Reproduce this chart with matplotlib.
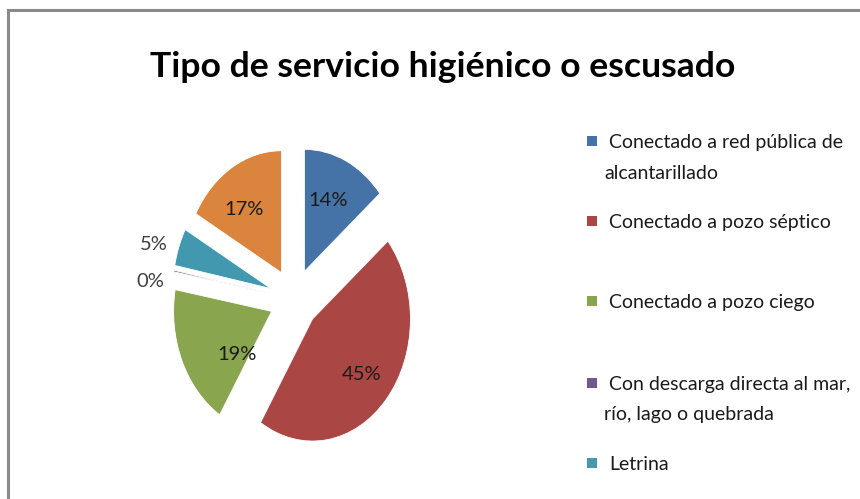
import numpy as np
import matplotlib.pyplot as plt
from matplotlib.patches import Rectangle
from matplotlib.lines import Line2D

# Datos del grafico
categorias = ["Conectado a red pública de\nalcantarillado",
              "Conectado a pozo séptico",
              "Conectado a pozo ciego",
              "Con descarga directa al mar,\nrío, lago o quebrada",
              "Letrina",
              "Otro"]
valores = [14, 45, 19, 0.2, 5, 17]
etiquetas = ["14%", "45%", "19%", "0%", "5%", "17%"]
colores = ["#4572A7", "#AA4643", "#89A54E", "#71588F", "#4198AF", "#DB843D"]

W, H = 860, 499
plt.rcParams['font.family'] = ["Lato", "DejaVu Sans"]

fig = plt.figure(figsize=(W / 100, H / 100), dpi=100)
renderer = fig.canvas.get_renderer()


def ajustar(t, ancho_px):
    # reduce el tamaño de letra para que el texto ocupe el ancho dado
    ancho = t.get_window_extent(renderer).width
    t.set_fontsize(t.get_fontsize() * ancho_px / ancho)


# marco gris (cortado a la derecha y abajo)
fig.add_artist(Line2D([8 / W, 1], [1 - 10 / H, 1 - 10 / H], color="#8a8a8a", lw=2.2))
fig.add_artist(Line2D([8 / W, 8 / W], [0, 1 - 10 / H], color="#8a8a8a", lw=2.2))

titulo = fig.text(443 / W, 1 - 77 / H, "Tipo de servicio higiénico o escusado",
                  ha="center", va="baseline", fontsize=31, fontweight="bold")
ajustar(titulo, 583)

# pastel: centro (294, 299) px, radio x 98 px, radio y 122 px
cx, cy, rx, ry = 294, 299, 98, 122
ax = fig.add_axes([(cx - 1.5 * rx) / W, (H - cy - 1.5 * ry) / H, 3 * rx / W, 3 * ry / H])
wedges, _ = ax.pie(valores, colors=colores, startangle=90, counterclock=False,
                   explode=[0.25] * len(valores),
                   wedgeprops=dict(linewidth=0.6, edgecolor="white"))
ax.set_aspect("auto")
ax.set_xlim(-1.5, 1.5)
ax.set_ylim(-1.5, 1.5)
ax.axis("off")

# distancia y giro de cada etiqueta respecto a su porción
dist = [0.63, 0.68, 0.5, 1.22, 1.25, 0.65]
giro = [3, -1, 21, 6, 3, 6]
for w, txt, d, g in zip(wedges, etiquetas, dist, giro):
    ang = np.deg2rad((w.theta1 + w.theta2) / 2 + g)
    x = w.center[0] + d * np.cos(ang)
    y = w.center[1] + d * np.sin(ang)
    col = "#1a1a1a" if d < 1 else "#404040"
    ax.text(x, y, txt, ha="center", va="center", fontsize=14.5, color=col)

# leyenda manual (solo 5 entradas visibles)
base = [[148, 179], [228], [308], [390, 420], [470]]
t0 = fig.text(0, 0, "Conectado a red pública de", fontsize=15)
ajustar(t0, 234)
tam_ley = t0.get_fontsize()
t0.remove()
for i, lineas in enumerate(base):
    yc = lineas[0] - 7
    fig.add_artist(Rectangle((587 / W, 1 - (yc + 5) / H), 10 / W, 10 / H,
                             facecolor=colores[i], edgecolor="none"))
    partes = categorias[i].split("\n")
    for j, (t, yb) in enumerate(zip(partes, lineas)):
        xt = 609 if j == 0 else 604
        fig.text(xt / W, 1 - yb / H, t, ha="left", va="baseline",
                 fontsize=tam_ley, color="#1a1a1a")

fig.savefig("out.png", dpi=100)
